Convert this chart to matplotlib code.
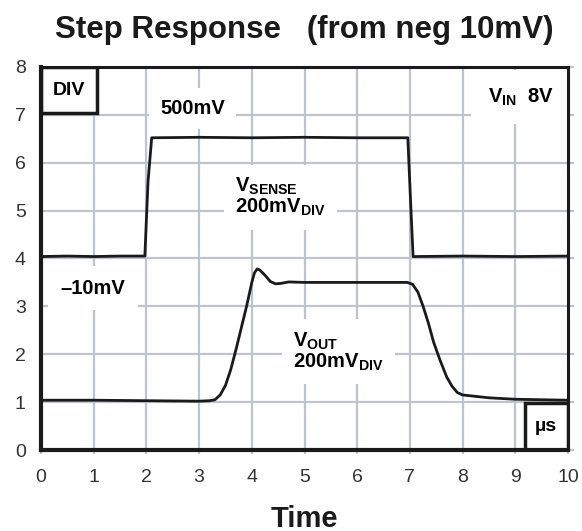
import matplotlib
matplotlib.use("Agg")
import matplotlib.pyplot as plt
from matplotlib.patches import Rectangle

# traces (divisions)
sense_t = [0.0, 0.5, 1.0, 1.5, 1.97, 2.03, 2.1, 3.0, 4.0, 5.0, 6.0, 6.96, 7.02, 7.06, 8.0, 9.0, 10.0]
sense_v = [4.04, 4.05, 4.04, 4.05, 4.05, 5.6, 6.52, 6.53, 6.52, 6.53, 6.52, 6.52, 5.0, 4.04, 4.05, 4.04, 4.05]

out_t = [0.0, 1.0, 2.0, 3.0, 3.2, 3.3, 3.4, 3.5, 3.6, 3.7, 3.8, 3.9, 4.0, 4.05, 4.1,
         4.15, 4.25, 4.35, 4.45, 4.55, 4.7, 5.0, 6.0, 6.95, 7.05, 7.15, 7.25, 7.35,
         7.45, 7.57, 7.7, 7.8, 7.9, 8.0, 8.5, 9.0, 10.0]
out_v = [1.04, 1.04, 1.03, 1.02, 1.03, 1.05, 1.15, 1.35, 1.68, 2.1, 2.55, 3.0, 3.5, 3.7, 3.78,
         3.76, 3.65, 3.52, 3.47, 3.48, 3.51, 3.5, 3.5, 3.5, 3.46, 3.3, 3.0, 2.65,
         2.25, 1.88, 1.52, 1.33, 1.2, 1.15, 1.09, 1.06, 1.04]

xticks = list(range(0, 11))
yticks = list(range(0, 9))

plt.rcParams['font.family'] = ['Liberation Sans', 'DejaVu Sans']
plt.rcParams['mathtext.fontset'] = 'custom'
plt.rcParams['mathtext.bf'] = 'Liberation Sans:bold'
plt.rcParams['mathtext.rm'] = 'Liberation Sans'

grid_c = '#bfc3cc'

fig = plt.figure(figsize=(5.82, 5.31), dpi=100)
ax = fig.add_axes([0.0705, 0.1525, 0.9055, 0.7215])

# scope graticule
for x in xticks[1:-1]:
    ax.axvline(x, color=grid_c, lw=1.6, zorder=1)
for y in yticks[1:-1]:
    ax.axhline(y, color=grid_c, lw=1.6, zorder=1)

ax.plot(sense_t, sense_v, color='#1a1a1a', lw=2.0, zorder=3)
ax.plot(out_t, out_v, color='#1a1a1a', lw=2.0, zorder=3)

ax.set_xlim(0, 10)
ax.set_ylim(0, 8)
ax.set_xticks(xticks)
ax.set_yticks(yticks)
ax.tick_params(labelsize=14, labelcolor='#333333', color=grid_c, width=1.6, direction='out')
ax.tick_params(axis='x', length=3, pad=11)
ax.tick_params(axis='y', left=False, right=True, length=4, pad=7)

for s in ['left', 'bottom']:
    ax.spines[s].set_linewidth(3)
for s in ['top', 'right']:
    ax.spines[s].set_linewidth(2.2)
for s in ax.spines.values():
    s.set_color('#1a1a1a')
    s.set_zorder(6)

ax.set_title('Step Response   (from neg 10mV)', fontsize=22.5, fontweight='bold', pad=21,
             color='#1a1a1a')
ax.set_xlabel('Time', fontsize=21, fontweight='bold', labelpad=13, color='#1a1a1a')

# corner boxes
ax.add_patch(Rectangle((0, 7.04), 1.06, 0.96, fill=True, fc='white', ec='#1a1a1a', lw=2.5, zorder=4))
ax.text(0.53, 7.5, 'DIV', ha='center', va='center', fontsize=14, fontweight='bold', zorder=5)
ax.add_patch(Rectangle((9.18, 0), 0.82, 0.98, fill=True, fc='white', ec='#1a1a1a', lw=2.5, zorder=4))
ax.text(9.58, 0.5, 'µs', ha='center', va='center', fontsize=14, fontweight='bold', zorder=5)

fs = 14.5
ax.text(2.87, 7.14, '500mV', ha='center', va='center', fontsize=fs, fontweight='bold',
        bbox=dict(fc='white', ec='none', pad=8), zorder=2)
ax.text(9.1, 7.37, r'V$_{\mathbf{IN}}$  8V', ha='center', va='center', fontsize=fs, fontweight='bold',
        bbox=dict(fc='white', ec='none', pad=12), zorder=2)
ax.text(0.99, 3.38, '–10mV', ha='center', va='center', fontsize=fs, fontweight='bold',
        bbox=dict(fc='white', ec='none', pad=9), zorder=2)
ax.text(3.68, 5.28, 'V$_{\\mathbf{SENSE}}$\n200mV$_{\\mathbf{DIV}}$', ha='left', va='center', fontsize=fs,
        fontweight='bold', bbox=dict(fc='white', ec='none', pad=8), zorder=2, linespacing=1.0)
ax.text(4.78, 2.05, 'V$_{\\mathbf{OUT}}$\n200mV$_{\\mathbf{DIV}}$', ha='left', va='center', fontsize=fs,
        fontweight='bold', bbox=dict(fc='white', ec='none', pad=8), zorder=2, linespacing=1.0)

fig.savefig('out.png', dpi=100)
